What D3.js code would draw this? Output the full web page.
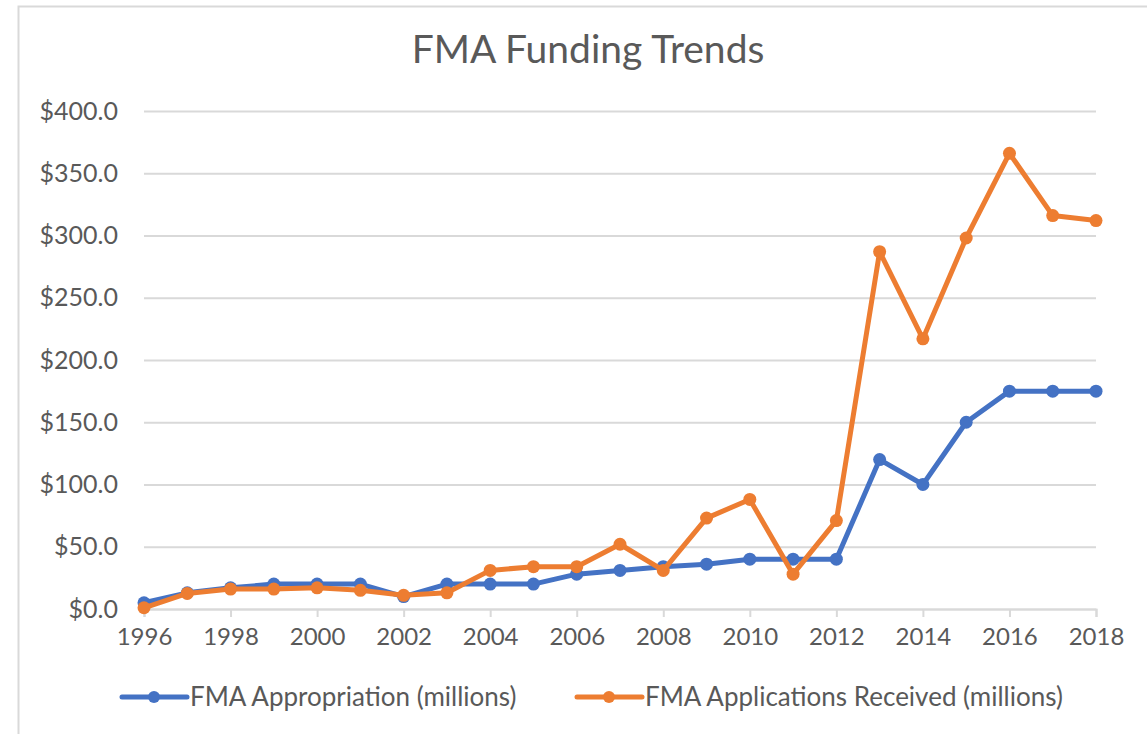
<!DOCTYPE html>
<html>
<head>
<meta charset="utf-8">
<script src="https://cdn.jsdelivr.net/npm/d3@7"></script>
<style>
  body { margin: 0; background: #fff; }
  text { font-family: Lato, "Open Sans", sans-serif; }
</style>
</head>
<body>
<div id="chart"></div>
<script>
var years = [1996, 1997, 1998, 1999, 2000, 2001, 2002, 2003, 2004, 2005, 2006, 2007,
             2008, 2009, 2010, 2011, 2012, 2013, 2014, 2015, 2016, 2017, 2018];
var appropriation = [5, 13, 17, 20, 20, 20, 10, 20, 20, 20, 28, 31,
                     34, 36, 40, 40, 40, 120, 100, 150, 175, 175, 175];
var applications = [1, 12.5, 16, 16, 17, 15, 11, 13, 31, 34, 34, 52,
                    31, 73, 88, 28, 71, 287, 217, 298, 366, 316, 312];
var yTicks = [0, 50, 100, 150, 200, 250, 300, 350, 400];
var xTicks = [1996, 1998, 2000, 2002, 2004, 2006, 2008, 2010, 2012, 2014, 2016, 2018];
var seriesNames = ["FMA Appropriation (millions)", "FMA Applications Received (millions)"];
var colors = ["#4472C4", "#ED7D31"];

var W = 1147, H = 734;
var margin = {top: 111, right: 51, bottom: 125, left: 144},
    width = W - margin.left - margin.right,
    height = H - margin.top - margin.bottom;

var root = d3.select("#chart")
  .append("svg")
    .attr("width", W)
    .attr("height", H);

// chart border (only top and left show in the crop)
root.append("rect")
  .attr("x", 18.5).attr("y", 6.5)
  .attr("width", W + 20).attr("height", H + 20)
  .attr("fill", "none")
  .attr("stroke", "#d9d9d9")
  .attr("stroke-width", 2);

root.append("text")
  .attr("x", 588)
  .attr("y", 63)
  .attr("text-anchor", "middle")
  .style("font-size", "39px")
  .attr("fill", "#595959")
  .text("FMA Funding Trends");

var svg = root.append("g")
  .attr("transform", "translate(" + margin.left + "," + margin.top + ")");

var x = d3.scaleLinear()
  .domain([1996, 2018])
  .range([0, width]);

var y = d3.scaleLinear()
  .domain([0, 400])
  .range([height, 0]);

// gridlines + y labels
var yAxis = svg.append("g")
  .call(d3.axisLeft(y).tickValues(yTicks).tickSize(-width).tickPadding(26)
    .tickFormat(function(d) { return "$" + d.toFixed(1); }));
yAxis.select(".domain").remove();
yAxis.selectAll(".tick line").attr("stroke", "#d9d9d9").attr("stroke-width", 2);
yAxis.selectAll(".tick text")
  .attr("fill", "#595959")
  .style("font-size", "25px")
  .style("font-family", "Lato, sans-serif");

// x axis
var xAxis = svg.append("g")
  .attr("transform", "translate(0," + height + ")")
  .call(d3.axisBottom(x).tickValues(xTicks).tickSize(8).tickPadding(11)
    .tickFormat(d3.format("d")));
xAxis.select(".domain").attr("stroke", "#d9d9d9").attr("stroke-width", 2);
xAxis.selectAll(".tick line").attr("stroke", "#d9d9d9").attr("stroke-width", 2);
xAxis.selectAll(".tick text")
  .attr("fill", "#595959")
  .style("font-size", "24px")
  .style("font-family", "Lato, sans-serif");

var line = d3.line()
  .x(function(d) { return x(d.year); })
  .y(function(d) { return y(d.value); });

[appropriation, applications].forEach(function(vals, k) {
  var data = years.map(function(yr, i) { return {year: yr, value: vals[i]}; });
  svg.append("path")
    .datum(data)
    .attr("fill", "none")
    .attr("stroke", colors[k])
    .attr("stroke-width", 5)
    .attr("stroke-linejoin", "round")
    .attr("d", line);
  svg.append("g")
    .selectAll("circle")
    .data(data)
    .enter()
    .append("circle")
      .attr("cx", function(d) { return x(d.year); })
      .attr("cy", function(d) { return y(d.value); })
      .attr("r", 6.5)
      .attr("fill", colors[k]);
});

// legend
var legendX = [120, 575];
var legend = root.append("g");
seriesNames.forEach(function(name, k) {
  var g = legend.append("g").attr("transform", "translate(" + legendX[k] + ",697)");
  g.append("line")
    .attr("x1", 2).attr("x2", 67)
    .attr("stroke", colors[k]).attr("stroke-width", 5)
    .attr("stroke-linecap", "round");
  g.append("circle").attr("cx", 34).attr("r", 6).attr("fill", colors[k]);
  g.append("text")
    .attr("x", 70).attr("y", 9)
    .attr("fill", "#595959")
    .style("font-size", "26px")
    .text(name);
});
</script>
</body>
</html>
